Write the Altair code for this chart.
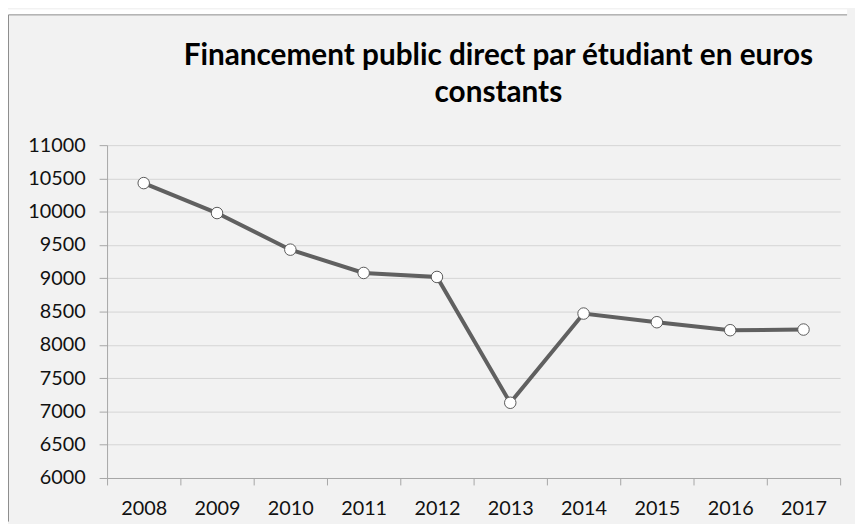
import altair as alt
import pandas as pd

years = ["2008", "2009", "2010", "2011", "2012", "2013", "2014", "2015", "2016", "2017"]
values = [10430, 9980, 9430, 9080, 9020, 7130, 8470, 8340, 8220, 8230]
title_lines = ["Financement public direct par étudiant en euros", "constants"]
y_ticks = list(range(6000, 11001, 500))

df = pd.DataFrame({"year": years, "value": values})

FONT = "Lato"

x_enc = alt.X(
    "year:O",
    sort=years,
    scale=alt.Scale(type="band", paddingInner=0, paddingOuter=0),
    axis=alt.Axis(
        title=None, labelAngle=0, tickBand="extent", grid=False,
        domainColor="#a6a6a6", tickColor="#a6a6a6", tickSize=7,
        labelPadding=14, labelFont=FONT, labelFontSize=20, labelColor="#111111",
    ),
)
y_enc = alt.Y(
    "value:Q",
    scale=alt.Scale(domain=[6000, 11000], nice=False, zero=False),
    axis=alt.Axis(
        title=None, values=y_ticks, format="d", grid=True, gridColor="#d4d4d4",
        domainColor="#a6a6a6", tickColor="#a6a6a6", tickSize=8,
        labelPadding=14, labelFont=FONT, labelFontSize=20, labelColor="#111111",
    ),
)

base = alt.Chart(df)
line = base.mark_line(color="#606060", strokeWidth=4).encode(x=x_enc, y=y_enc)
points = base.mark_point(
    filled=True, fill="white", stroke="#5a5a5a", strokeWidth=1, size=135, opacity=1
).encode(x=x_enc, y=y_enc)

one = alt.Data(values=[{}])
top_white = alt.Chart(one).mark_rect(color="white").encode(
    x=alt.value(-101), x2=alt.value(747), y=alt.value(-137), y2=alt.value(-131.5)
)
border_left = alt.Chart(one).mark_rule(color="#8c8c8c", strokeWidth=1).encode(
    x=alt.value(-99.5), y=alt.value(-131.5), y2=alt.value(380)
)
border_top = alt.Chart(one).mark_rule(color="#8c8c8c", strokeWidth=1).encode(
    x=alt.value(-99.5), x2=alt.value(747), y=alt.value(-131.5)
)
title = alt.Chart(one).mark_text(
    text=title_lines, font=FONT, fontSize=30, fontWeight="bold", color="#000000",
    align="center", baseline="alphabetic", lineHeight=37,
).encode(x=alt.value(395), y=alt.value(-81))

chart = alt.layer(line, points, top_white, border_left, border_top, title).properties(
    width=740, height=336,
    autosize=alt.AutoSizeParams(type="none"),
    padding={"left": 100, "top": 136, "right": 15, "bottom": 44},
    background="#f2f2f2",
).configure_view(stroke=None)

chart.save("out.html", embed_options={"renderer": "svg", "actions": False})
